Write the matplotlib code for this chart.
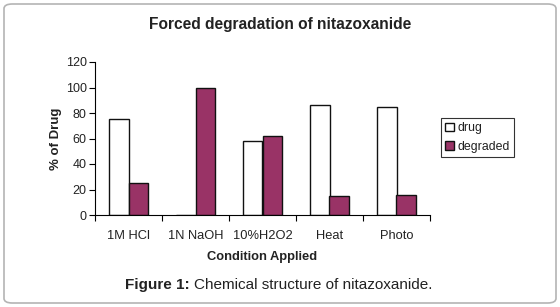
import numpy as np
import matplotlib.pyplot as plt
from matplotlib.patches import FancyBboxPatch

plt.rcParams['font.family'] = ['Liberation Sans', 'DejaVu Sans']

conditions = ['1M HCl', '1N NaOH', '10%H2O2', 'Heat', 'Photo']
drug = [75, 0, 58, 86, 85]
degraded = [25, 100, 62, 15, 16]

fig = plt.figure(figsize=(5.6, 3.07), dpi=100)
W, H = 560, 307

# rounded outer frame
frame = FancyBboxPatch((4 / W, 4 / H), 552 / W, 299 / H,
                       boxstyle='round,pad=0,rounding_size=0.015',
                       transform=fig.transFigure, facecolor='white',
                       edgecolor='#b4b4b4', linewidth=1.2, zorder=-10)
fig.patches.append(frame)

ax = fig.add_axes([95 / W, 1 - 215 / H, 335 / W, 153 / H])
x = np.arange(len(conditions))
w = 0.285
ax.bar(x - w / 2, drug, w, color='white', edgecolor='#111111', linewidth=1, label='drug')
ax.bar(x + w / 2, degraded, w, color='#993366', edgecolor='#111111', linewidth=1, label='degraded')

ax.set_xlim(-0.5, len(conditions) - 0.5)
ax.set_ylim(0, 120)
ax.set_yticks(range(0, 121, 20))
ax.set_xticks(x)
ax.set_xticklabels(conditions, fontsize=9.3, color='#222222')
ax.set_xticks(np.arange(-0.5, len(conditions), 1), minor=True)
ax.tick_params(axis='x', which='major', length=0, pad=11)
ax.tick_params(axis='x', which='minor', length=4, direction='out', width=0.8)
ax.tick_params(axis='y', labelsize=9, length=4, width=0.8, pad=2, labelcolor='#222222')
for s in ['top', 'right']:
    ax.spines[s].set_visible(False)
for s in ['left', 'bottom']:
    ax.spines[s].set_linewidth(0.8)
ax.patch.set_alpha(0)

ax.set_ylabel('% of Drug', fontsize=9.5, fontweight='bold', labelpad=3, color='#222222')
ax.set_xlabel('Condition Applied', fontsize=9.3, fontweight='bold', labelpad=6, color='#222222')

fig.text(0.5, 1 - 24 / H, 'Forced degradation of nitazoxanide', ha='center', va='center',
         fontsize=11.2, fontweight='bold', color='#222222')

leg = ax.legend(loc='upper left', bbox_to_anchor=(441 / W, 1 - 118 / H), bbox_transform=fig.transFigure,
                fontsize=8.9, frameon=True, fancybox=False, edgecolor='black',
                handlelength=0.7, handleheight=0.7, handletextpad=0.3,
                borderpad=0.35, labelspacing=0.55, borderaxespad=0)
leg.get_frame().set_linewidth(0.8)
for t in leg.get_texts():
    t.set_color('#222222')

t1 = fig.text(125 / W, 1 - 285 / H, 'Figure 1:', ha='left', va='center', fontsize=11,
              fontweight='bold', color='#222222')
fig.canvas.draw()
bb = t1.get_window_extent()
fig.text((bb.x1 + 4) / W, 1 - 285 / H, 'Chemical structure of nitazoxanide.', ha='left', va='center',
         fontsize=11, color='#222222')

fig.savefig('out.png', dpi=100)
